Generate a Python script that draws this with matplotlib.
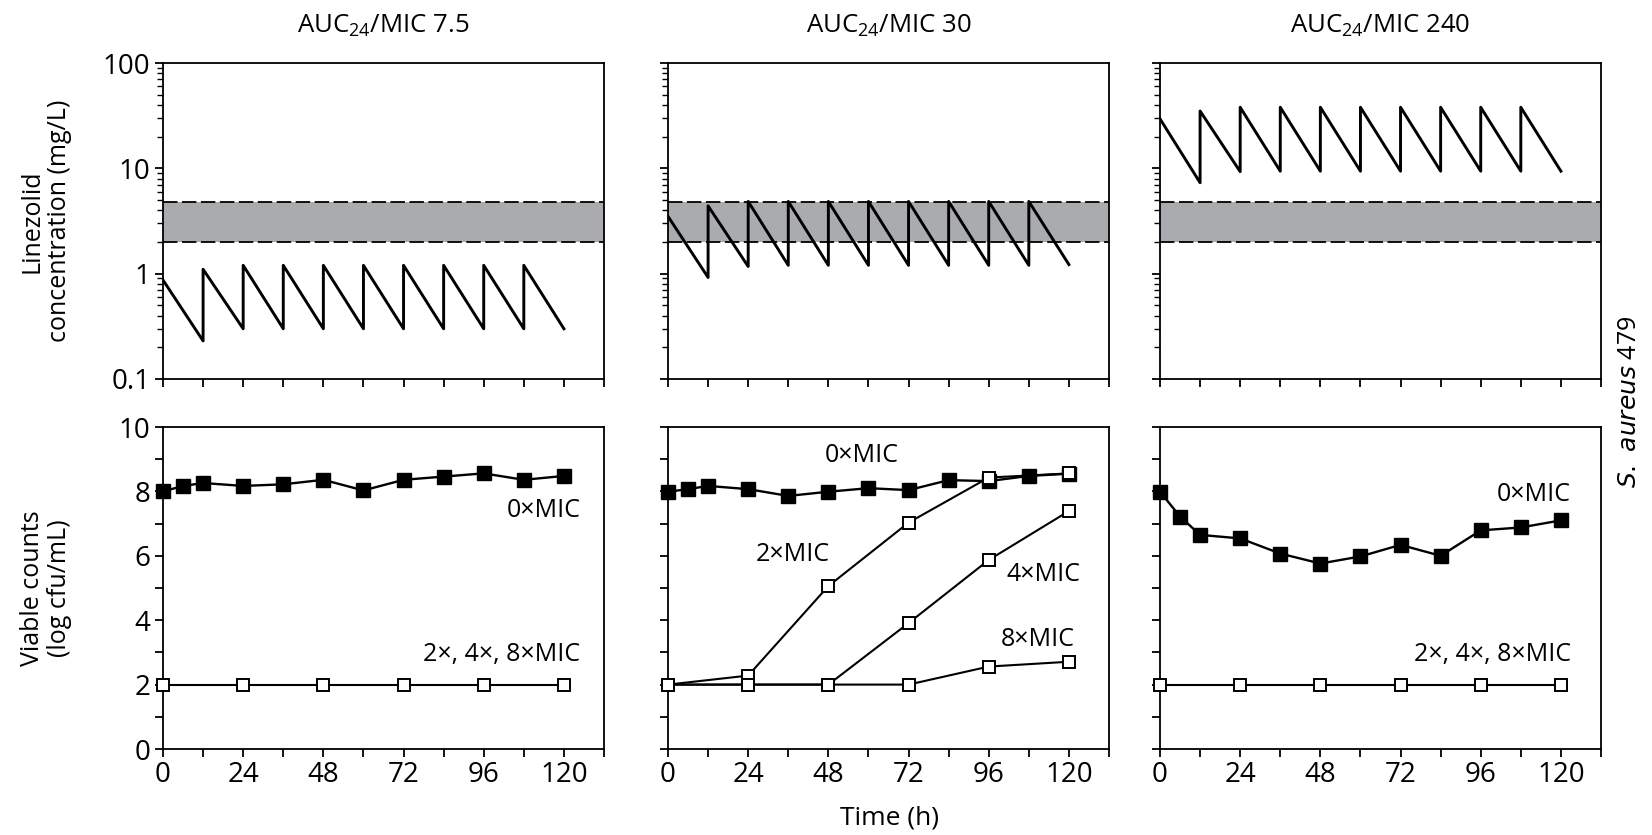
import numpy as np
import matplotlib
matplotlib.use("Agg")
import matplotlib.pyplot as plt

plt.rcParams['font.family'] = ['Open Sans', 'DejaVu Sans']
plt.rcParams['mathtext.default'] = 'regular'

# ---- data ----
titles = ["AUC$_{24}$/MIC 7.5", "AUC$_{24}$/MIC 30", "AUC$_{24}$/MIC 240"]

# simulated linezolid concentrations (sawtooth, dose every 12 h)
t_pk = [0, 12, 12, 24, 24, 36, 36, 48, 48, 60, 60, 72, 72, 84, 84, 96, 96, 108, 108, 120]
conc_7 = [0.87, 0.23, 1.1, 0.3, 1.2, 0.3, 1.2, 0.3, 1.2, 0.3, 1.2, 0.3, 1.2, 0.3,
          1.2, 0.3, 1.2, 0.3, 1.2, 0.3]
conc_30 = [3.5, 0.92, 4.4, 1.17, 4.85, 1.2, 4.85, 1.2, 4.85, 1.2, 4.85, 1.2, 4.85, 1.2,
           4.85, 1.2, 4.85, 1.2, 4.85, 1.22]
conc_240 = [29.5, 7.3, 35.0, 9.3, 38.0, 9.4, 38.0, 9.4, 38.0, 9.4, 38.0, 9.4, 38.0, 9.4,
            38.0, 9.4, 38.0, 9.4, 38.0, 9.4]
band_lo, band_hi = 2.0, 4.8

# viable counts
t_ctrl = [0, 6, 12, 24, 36, 48, 60, 72, 84, 96, 108, 120]
ctrl_7 = [8.0, 8.17, 8.26, 8.17, 8.22, 8.36, 8.03, 8.36, 8.46, 8.56, 8.36, 8.48]
ctrl_30 = [7.99, 8.07, 8.17, 8.07, 7.86, 7.99, 8.10, 8.04, 8.35, 8.32, 8.48, 8.55]
ctrl_240 = [7.99, 7.22, 6.65, 6.54, 6.07, 5.76, 5.98, 6.34, 6.0, 6.79, 6.88, 7.10]

t_drug = [0, 24, 48, 72, 96, 120]
all_7 = [2.0, 2.0, 2.0, 2.0, 2.0, 2.0]
mic2_30 = [2.0, 2.28, 5.06, 7.03, 8.43, 8.56]
mic4_30 = [2.0, 2.0, 2.0, 3.91, 5.87, 7.39]
mic8_30 = [2.0, 2.0, 2.0, 2.0, 2.56, 2.71]
all_240 = [2.0, 2.0, 2.0, 2.0, 2.0, 2.0]

conc = [conc_7, conc_30, conc_240]
ctrl = [ctrl_7, ctrl_30, ctrl_240]
drug = [[all_7], [mic2_30, mic4_30, mic8_30], [all_240]]

# ---- layout ----
W, H = 1652, 835
fig = plt.figure(figsize=(W / 100, H / 100), dpi=100)

lefts = [163, 668, 1160]
width = 441
top_row = (63, 379)
bot_row = (427, 749)


def mkax(left, row):
    y0, y1 = row
    return fig.add_axes([left / W, 1 - y1 / H, width / W, (y1 - y0) / H])


xt = list(range(0, 133, 12))
xtl = [str(v) if (v % 24 == 0 and v <= 120) else "" for v in xt]
fs_tick = 20
fs_txt = 18

for i in range(3):
    # concentration panel
    ax = mkax(lefts[i], top_row)
    ax.set_yscale("log")
    ax.set_ylim(0.1, 100)
    ax.set_xlim(0, 132)
    ax.axhspan(band_lo, band_hi, color="#a9abae", lw=0, zorder=1)
    for b in (band_lo, band_hi):
        ax.axhline(b, color="black", lw=1.3, ls=(0, (8, 2.5)), zorder=2)
    ax.plot(t_pk, conc[i], color="black", lw=2.1, zorder=3)
    ax.set_xticks(xt)
    ax.set_xticklabels([])
    ax.set_yticks([0.1, 1, 10, 100])
    if i == 0:
        ax.set_yticklabels(["0.1", "1", "10", "100"])
    else:
        ax.set_yticklabels([])
    ax.tick_params(axis="both", which="major", direction="out", length=6, width=1.3,
                   labelsize=fs_tick, top=False, right=False, pad=3)
    ax.tick_params(axis="y", which="minor", direction="out", length=4, width=1.0)
    for s in ax.spines.values():
        s.set_linewidth(1.3)
    ax.set_title(titles[i], fontsize=fs_txt + 0.5, pad=22)

    # viable count panel
    bx = mkax(lefts[i], bot_row)
    bx.set_xlim(0, 132)
    bx.set_ylim(0, 10)
    bx.plot(t_ctrl, ctrl[i], color="black", lw=1.7, marker="s", ms=9.5,
            mfc="black", mec="black", zorder=3, clip_on=False)
    for d in drug[i]:
        bx.plot(t_drug, d, color="black", lw=1.5, marker="s", ms=8.5,
                mfc="white", mec="black", mew=1.4, zorder=4, clip_on=False)
    bx.set_xticks(xt)
    bx.set_xticklabels(xtl)
    bx.set_yticks(range(0, 11))
    if i == 0:
        bx.set_yticklabels([str(v) if v % 2 == 0 else "" for v in range(0, 11)])
    else:
        bx.set_yticklabels([])
    bx.tick_params(axis="both", direction="out", length=6, width=1.3,
                   labelsize=fs_tick, pad=3)
    for s in bx.spines.values():
        s.set_linewidth(1.3)

    if i == 0:
        bx.text(125, 7.4, "0×MIC", ha="right", va="center", fontsize=fs_txt)
        bx.text(125, 2.95, "2×, 4×, 8×MIC", ha="right", va="center", fontsize=fs_txt)
    elif i == 1:
        bx.text(58, 9.1, "0×MIC", ha="center", va="center", fontsize=fs_txt)
        bx.text(37.5, 6.05, "2×MIC", ha="center", va="center", fontsize=fs_txt)
        bx.text(112.5, 5.43, "4×MIC", ha="center", va="center", fontsize=fs_txt)
        bx.text(110.8, 3.41, "8×MIC", ha="center", va="center", fontsize=fs_txt)
    else:
        bx.text(123, 7.9, "0×MIC", ha="right", va="center", fontsize=fs_txt)
        bx.text(123, 2.95, "2×, 4×, 8×MIC", ha="right", va="center", fontsize=fs_txt)

fig.text(46 / W, 1 - 221 / H, "Linezolid\nconcentration (mg/L)", rotation=90,
         ha="center", va="center", fontsize=fs_txt, multialignment="center",
         linespacing=1.15)
fig.text(46 / W, 1 - 588 / H, "Viable counts\n(log cfu/mL)", rotation=90,
         ha="center", va="center", fontsize=fs_txt, multialignment="center",
         linespacing=1.15)
fig.text(889 / W, 1 - 818 / H, "Time (h)", ha="center", va="center", fontsize=19)
fig.text(1630 / W, 1 - 402 / H, "$\\mathit{S.\\ aureus}$ 479", rotation=90,
         ha="center", va="center", fontsize=fs_txt)

fig.savefig("out.png", dpi=100)
